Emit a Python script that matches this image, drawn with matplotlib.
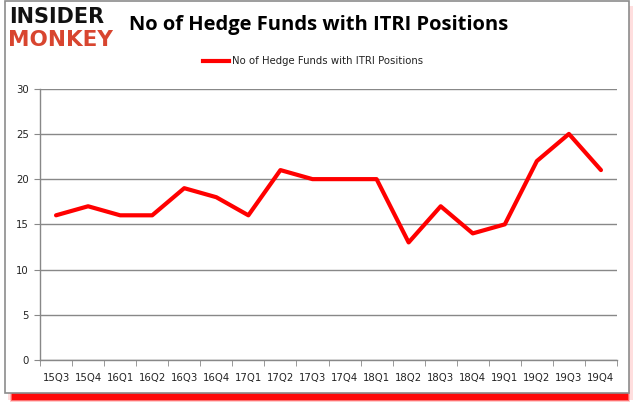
import matplotlib
matplotlib.use("Agg")
import matplotlib.pyplot as plt
from matplotlib.patches import Rectangle
from matplotlib.lines import Line2D

categories = ["15Q3", "15Q4", "16Q1", "16Q2", "16Q3", "16Q4", "17Q1", "17Q2", "17Q3",
              "17Q4", "18Q1", "18Q2", "18Q3", "18Q4", "19Q1", "19Q2", "19Q3", "19Q4"]
values = [16, 17, 16, 16, 19, 18, 16, 21, 20, 20, 20, 13, 17, 14, 15, 22, 25, 21]
yticks = [0, 5, 10, 15, 20, 25, 30]
series_name = "No of Hedge Funds with ITRI Positions"

W, H = 635, 405
fig = plt.figure(figsize=(W / 100, H / 100), dpi=100)
fig.patch.set_facecolor("white")


def frect(x0, y0, x1, y1, **kw):
    # pixel coordinates, y measured from top
    return Rectangle((x0 / W, 1 - y1 / H), (x1 - x0) / W, (y1 - y0) / H,
                     transform=fig.transFigure, **kw)


# faint pink shadow on the right
fig.patches.append(frect(8, 6, 633, 400, facecolor=(1, 0.75, 0.75, 0.5), edgecolor="none", zorder=0))
# strong red shadow at the bottom
for i, a in enumerate([0.2, 0.45, 0.9]):
    fig.patches.append(frect(10 + i, 390, 630 - i, 402 - i, facecolor=(1, 0, 0, a),
                             edgecolor="none", zorder=0))
# white card with gray border
fig.patches.append(frect(4.5, 1, 629, 393, facecolor="white", edgecolor="#8c8c8c",
                         lw=1.2, zorder=1))

ax = fig.add_axes([40 / W, (H - 360) / H, (617 - 40) / W, (360 - 88.7) / H])
ax.set_zorder(2)
ax.patch.set_alpha(0)
x = list(range(len(categories)))
ax.plot(x, values, color="#ff0000", lw=3, solid_capstyle="round", zorder=3)
ax.set_xlim(-0.5, len(categories) - 0.5)
ax.set_ylim(0, 30)
ax.set_yticks(yticks)
ax.set_yticklabels([str(t) for t in yticks])
ax.set_xticks(x)
ax.set_xticklabels(categories)
ax.set_xticks([i - 0.5 for i in range(len(categories) + 1)], minor=True)
ax.tick_params(axis="x", which="major", length=0, pad=9, labelsize=7.3, colors="#222222")
ax.tick_params(axis="x", which="minor", length=4, color="#888888", direction="out")
ax.tick_params(axis="y", length=4, color="#888888", labelsize=7.3, colors="#222222", pad=4)
ax.grid(axis="y", color="#888888", lw=1)
ax.set_axisbelow(True)
for s in ["top", "right"]:
    ax.spines[s].set_visible(False)
for s in ["left", "bottom"]:
    ax.spines[s].set_color("#888888")
    ax.spines[s].set_linewidth(1)
for lab in ax.get_xticklabels() + ax.get_yticklabels():
    lab.set_color("#222222")

# title
fig.text(319 / W, 1 - 25 / H, "No of Hedge Funds with ITRI Positions", ha="center", va="center",
         fontsize=14.5, fontweight="bold", family="Open Sans", color="black", zorder=3)

# legend
fig.lines.append(Line2D([203 / W, 229 / W], [1 - 61 / H, 1 - 61 / H], transform=fig.transFigure,
                        color="#ff0000", lw=3, zorder=3))
fig.text(232 / W, 1 - 61 / H, series_name, ha="left", va="center", fontsize=7.3,
         color="#222222", zorder=3)

# logo
fig.text(9 / W, 1 - 17 / H, "INSIDER", ha="left", va="center", fontsize=15, fontweight="heavy",
         family="DejaVu Sans", color="#111111", zorder=3)
fig.text(8 / W, 1 - 40 / H, "MONKEY", ha="left", va="center", fontsize=15.5, fontweight="heavy",
         family="DejaVu Sans", color="#d8452f", zorder=3)

fig.savefig("out.png", dpi=100)
